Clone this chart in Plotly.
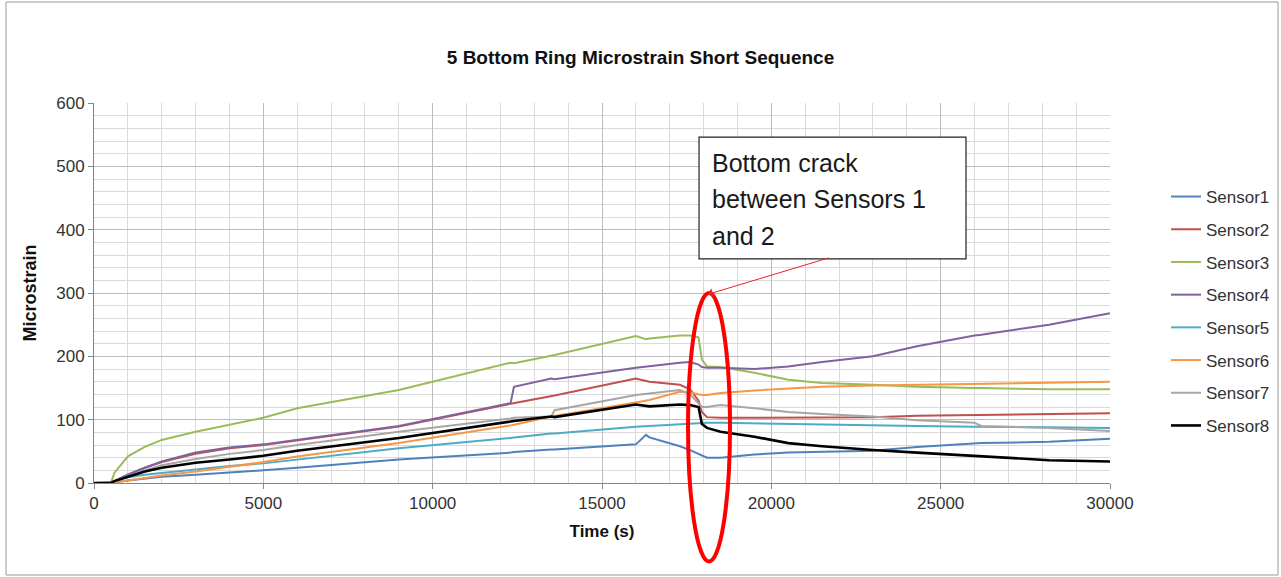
import plotly.graph_objects as go

# Sample times (s)
time_s = [0, 500, 600, 1000, 1500, 2000, 3000, 4000, 5000, 6000, 9000,
          12300, 12400, 13500, 13600, 16000, 16300, 16400, 17300, 17600,
          17850, 17950, 18100, 18500, 19500, 20500, 21500, 23000, 24300,
          26000, 26200, 28200, 30000]

# Microstrain readings per sensor at the sample times
sensor1 = [0, 0, 1, 4, 7, 10, 13, 16, 20, 24, 37, 48, 49, 53, 53, 61, 76, 72,
           58, 52, 46, 43, 40, 40, 45, 48, 49, 51, 57, 62, 63, 65, 70]
sensor2 = [0, 0, 3, 13, 24, 33, 46, 55, 60, 67, 89, 125, 126, 137, 138, 165,
           161, 160, 155, 148, 130, 112, 104, 103, 103, 103, 103, 104, 106,
           107, 108, 109, 110]
sensor3 = [0, 0, 16, 42, 57, 68, 81, 92, 103, 118, 147, 190, 189, 201, 202,
           232, 227, 228, 233, 233, 230, 195, 184, 183, 174, 163, 158, 155,
           152, 150, 150, 148, 148]
sensor4 = [0, 0, 3, 13, 24, 34, 48, 56, 61, 68, 90, 126, 152, 165, 164, 182,
           184, 184, 190, 191, 187, 183, 182, 182, 180, 184, 191, 200, 216,
           233, 234, 250, 268]
sensor5 = [0, 0, 3, 9, 13, 16, 22, 27, 31, 37, 55, 71, 72, 78, 78, 89, 90, 90,
           93, 94, 95, 95, 95, 95, 94, 93, 92, 91, 90, 89, 89, 88, 87]
sensor6 = [0, 0, 1, 4, 8, 12, 18, 25, 33, 42, 63, 91, 92, 105, 106, 127, 130,
           131, 144, 143, 140, 139, 139, 142, 146, 149, 152, 154, 155, 156,
           156, 158, 160]
sensor7 = [0, 0, 3, 11, 20, 28, 38, 46, 52, 60, 81, 102, 103, 105, 115, 139,
           141, 142, 147, 140, 125, 120, 120, 123, 118, 112, 109, 105, 99, 95,
           90, 87, 82]
sensor8 = [0, 0, 3, 10, 18, 24, 32, 37, 43, 51, 71, 97, 98, 105, 104, 124,
           122, 121, 124, 123, 120, 93, 87, 81, 73, 63, 58, 52, 48, 43, 42,
           36, 34]

names = ["Sensor1", "Sensor2", "Sensor3", "Sensor4",
         "Sensor5", "Sensor6", "Sensor7", "Sensor8"]
colors = ["#4F81BD", "#C0504D", "#9BBB59", "#7F62A0",
          "#4BACC6", "#F79646", "#A6A6A6", "#000000"]
series = [sensor1, sensor2, sensor3, sensor4,
          sensor5, sensor6, sensor7, sensor8]

X_MAX = 30000
Y_MAX = 600

FONT = "Liberation Sans, Arial, sans-serif"

fig = go.Figure()
for name, color, vals in zip(names, colors, series):
    fig.add_trace(go.Scatter(
        x=time_s, y=vals, mode="lines", name=name, legendgroup=name,
        line=dict(color=color, width=2.6 if color == "#000000" else 2),
    ))


def to_paper_x(t):
    return t / X_MAX


def to_paper_y(v):
    return v / Y_MAX


# Callout box and its text lines
box_x0, box_x1 = 17865, 25748
box_y0, box_y1 = 354, 546
fig.add_shape(type="rect", xref="x", yref="y",
              x0=box_x0, x1=box_x1, y0=box_y0, y1=box_y1,
              fillcolor="white", line=dict(color="#222222", width=1.2),
              layer="above")
callout_lines = ["Bottom crack", "between Sensors 1", "and 2"]
callout_y = [505, 448, 390]
for txt, yy in zip(callout_lines, callout_y):
    fig.add_annotation(x=18200, y=yy, xref="x", yref="y", text=txt,
                       showarrow=False, xanchor="left", yanchor="middle",
                       font=dict(family=FONT, size=25, color="#1a1a1a"))

# Arrow from the box to the top of the highlighted region
fig.add_annotation(x=18130, y=298, ax=21730, ay=356, xref="x", yref="y",
                   axref="x", ayref="y", text="", showarrow=True,
                   arrowhead=1, arrowsize=1.6, arrowwidth=1,
                   arrowcolor="#E8242B")

# Red ellipse marking the crack event (allowed to run past the axis)
fig.add_shape(type="circle", xref="paper", yref="paper",
              x0=to_paper_x(17540), x1=to_paper_x(18780),
              y0=to_paper_y(-124), y1=to_paper_y(300),
              line=dict(color="#FF0000", width=4), layer="above")

# Outer chart border
fig.add_shape(type="rect", xref="paper", yref="paper",
              x0=-0.0866, x1=1.1654, y0=-0.2421, y1=1.2658,
              line=dict(color="#9a9a9a", width=1), layer="below")

fig.update_layout(
    width=1281, height=577,
    margin=dict(l=94, r=171, t=103, b=94, autoexpand=False),
    paper_bgcolor="white", plot_bgcolor="white",
    font=dict(family=FONT, color="#333333"),
    title=dict(text="<b>5 Bottom Ring Microstrain Short Sequence</b>",
               x=0.5, xref="container", xanchor="center",
               y=1 - 57 / 577, yref="container", yanchor="middle",
               font=dict(family=FONT, size=19, color="#111111")),
    showlegend=True,
    legend=dict(x=1.0551, xanchor="left", y=0.80, yanchor="top",
                font=dict(family=FONT, size=17, color="#333333"),
                tracegroupgap=7.6, bgcolor="rgba(0,0,0,0)"),
)

fig.update_xaxes(
    range=[0, X_MAX], dtick=5000, tick0=0, tickformat="d",
    showline=True, linecolor="#868686", linewidth=1,
    ticks="outside", ticklen=5, tickcolor="#868686",
    tickfont=dict(family=FONT, size=17, color="#333333"),
    showgrid=True, gridcolor="#bcbcbc", gridwidth=1, zeroline=False,
    minor=dict(dtick=1000, showgrid=True, gridcolor="#dadada", ticks=""),
    title=dict(text="<b>Time (s)</b>", standoff=12,
               font=dict(family=FONT, size=17, color="#111111")),
)
fig.update_yaxes(
    range=[0, Y_MAX], dtick=100, tick0=0,
    showline=True, linecolor="#868686", linewidth=1,
    ticks="outside", ticklen=5, tickcolor="#868686",
    tickfont=dict(family=FONT, size=17, color="#333333"),
    showgrid=True, gridcolor="#bcbcbc", gridwidth=1, zeroline=False,
    minor=dict(dtick=20, showgrid=True, gridcolor="#dadada", ticks=""),
    title=dict(text="<b>Microstrain</b>", standoff=14,
               font=dict(family=FONT, size=18, color="#111111")),
)

fig.write_html("out.html")
